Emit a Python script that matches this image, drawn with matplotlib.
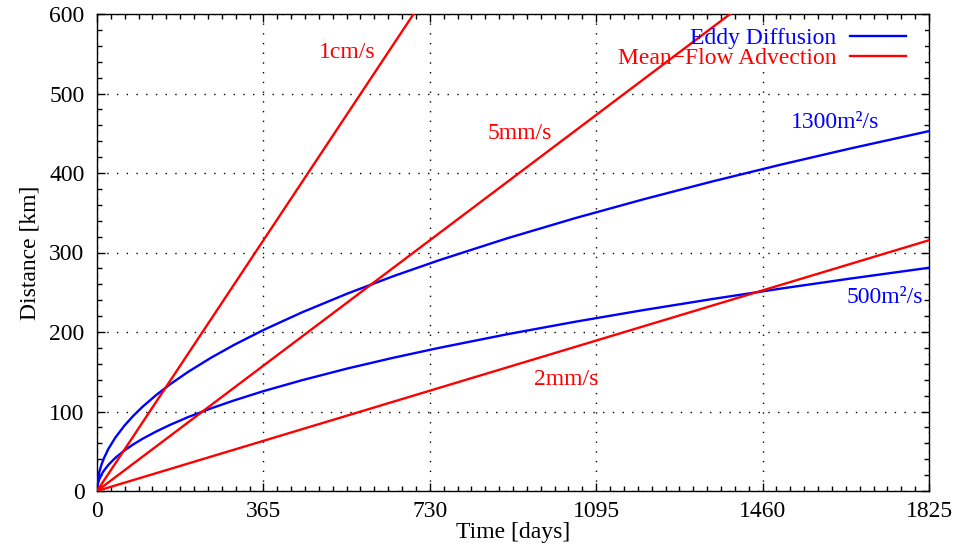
import matplotlib
matplotlib.use("Agg")
import matplotlib.pyplot as plt
from matplotlib.ticker import MultipleLocator, FixedLocator
from matplotlib.patches import Rectangle

plt.rcParams['font.family'] = ['Liberation Serif', 'DejaVu Serif']

# Eddy diffusion curves
days = [0, 1, 2, 5, 10, 15, 25, 40, 60, 80, 100, 130, 160, 200, 250, 300, 365,
        450, 550, 650, 750, 900, 1050, 1200, 1350, 1500, 1650, 1825]
eddy_1300 = [0, 10.6, 15.0, 23.7, 33.5, 41.0, 53.0, 67.0, 82.1, 94.8, 106.0, 120.8,
             134.1, 149.9, 167.6, 183.6, 202.5, 224.8, 248.5, 270.2, 290.2, 317.9,
             343.4, 367.1, 389.4, 410.5, 430.5, 452.7]
eddy_500 = [0, 6.6, 9.3, 14.7, 20.8, 25.5, 32.9, 41.6, 50.9, 58.8, 65.7, 74.9,
            83.1, 93.0, 103.9, 113.8, 125.6, 139.4, 154.2, 167.6, 180.0, 197.2,
            213.0, 227.7, 241.5, 254.6, 267.0, 280.8]

# Mean-flow advection lines (endpoints)
adv_days = [0, 1825]
adv_1cm = [0, 1576.8]
adv_5mm = [0, 788.4]
adv_2mm = [0, 315.4]

xticks = [0, 365, 730, 1095, 1460, 1825]
yticks = [0, 100, 200, 300, 400, 500, 600]

fig = plt.figure(figsize=(9.6, 5.53), dpi=100)
ax = fig.add_axes([97/960, 1-491/553, (929-97)/960, (491-14)/553])

blue = (0, 0, 1)
red = (1, 0, 0)
lw = 1.7

ax.plot(days, eddy_1300, color=blue, lw=lw, zorder=3)
ax.plot(days, eddy_500, color=blue, lw=lw, zorder=3)
ax.plot(adv_days, adv_1cm, color=red, lw=lw, zorder=3)
ax.plot(adv_days, adv_5mm, color=red, lw=lw, zorder=3)
ax.plot(adv_days, adv_2mm, color=red, lw=lw, zorder=3)

ax.set_xlim(0, 1825)
ax.set_ylim(0, 600)
ax.xaxis.set_major_locator(FixedLocator(xticks))
ax.xaxis.set_minor_locator(MultipleLocator(365/12))
ax.yaxis.set_major_locator(FixedLocator(yticks))
ax.yaxis.set_minor_locator(MultipleLocator(20))
ax.tick_params(which='both', direction='in', top=True, right=True, labelsize=17,
               color='black', width=1)
ax.tick_params(which='major', length=6)
ax.tick_params(axis='x', which='major', pad=7)
ax.tick_params(axis='y', which='major', pad=9)
ax.tick_params(which='minor', length=3.5)
for s in ax.spines.values():
    s.set_linewidth(1.0)
ax.grid(True, which='major', color='black', linestyle=(0, (1, 6)), linewidth=1.0, zorder=1)

ax.set_xlabel('Time [days]', fontsize=17, labelpad=0)
ax.set_ylabel('Distance [km]', fontsize=17, labelpad=6)

fs = 17
ax.text(548, 552, '1cm/s', color=red, fontsize=fs, ha='center', va='center')
ax.text(928, 450, '5mm/s', color=red, fontsize=fs, ha='center', va='center')
ax.text(1029, 140, '2mm/s', color=red, fontsize=fs, ha='center', va='center')
ax.text(1619, 463, '1300m²/s', color=blue, fontsize=fs, ha='center', va='center')
ax.text(1728, 243, '500m²/s', color=blue, fontsize=fs, ha='center', va='center')

# legend (manual, gnuplot style, opaque box)
bx0 = (615-97)/832
by0 = (491-69)/477
ax.add_patch(Rectangle((bx0, by0), (925-615)/832, (69-25)/477, transform=ax.transAxes,
                       facecolor='white', edgecolor='none', zorder=2))
tx = (836-97)/832
y1 = (491-36)/477
y2 = (491-56)/477
x0 = (850-97)/832
x1 = (906-97)/832
ax.text(tx, y1, 'Eddy Diffusion', color=blue, fontsize=fs, ha='right', va='center_baseline',
        transform=ax.transAxes, zorder=4)
ax.text(tx, y2, 'Mean\u2212Flow Advection', color=red, fontsize=fs, ha='right', va='center_baseline',
        transform=ax.transAxes, zorder=4)
ax.plot([x0, x1], [y1, y1], color=blue, lw=lw, transform=ax.transAxes, clip_on=False, zorder=4)
ax.plot([x0, x1], [y2, y2], color=red, lw=lw, transform=ax.transAxes, clip_on=False, zorder=4)

fig.savefig('out.png', dpi=100)
